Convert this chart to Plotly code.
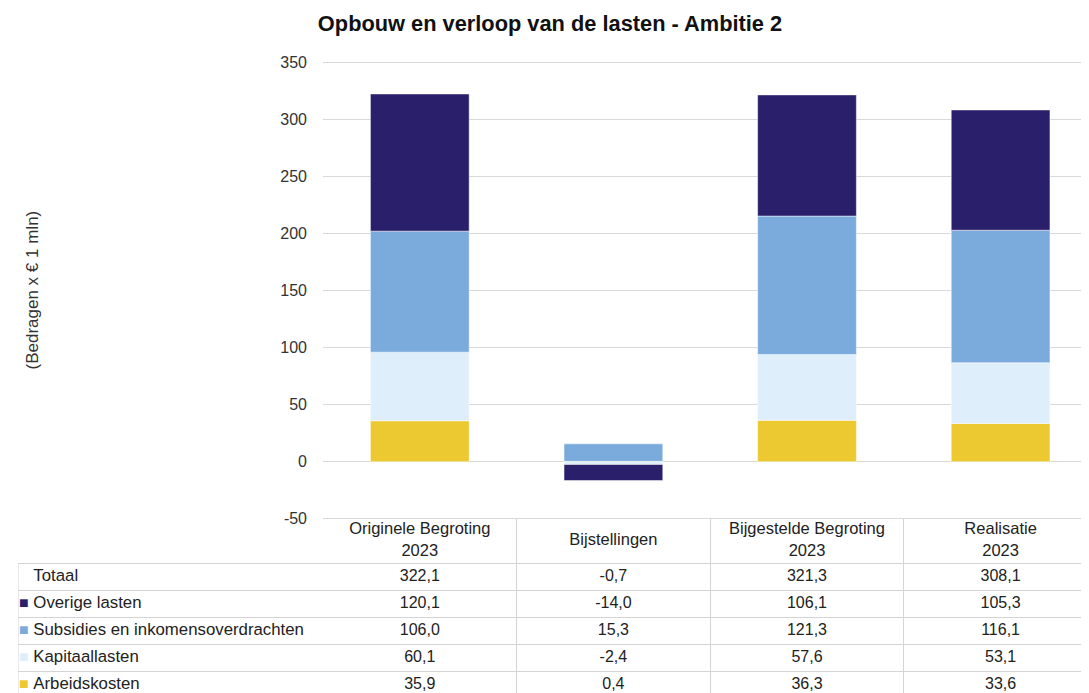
import plotly.graph_objects as go

# ---------------- data ----------------
categories = ["Originele Begroting<br>2023", "Bijstellingen", "Bijgestelde Begroting<br>2023", "Realisatie<br>2023"]
series_names = ["Arbeidskosten", "Kapitaallasten", "Subsidies en inkomensoverdrachten", "Overige lasten"]
arbeidskosten = [35.9, 0.4, 36.3, 33.6]
kapitaallasten = [60.1, -2.4, 57.6, 53.1]
subsidies = [106.0, 15.3, 121.3, 116.1]
overige = [120.1, -14.0, 106.1, 105.3]
totaal = [322.1, -0.7, 321.3, 308.1]
row_names = ["Totaal", "Overige lasten", "Subsidies en inkomensoverdrachten", "Kapitaallasten", "Arbeidskosten"]
y_ticks = [-50, 0, 50, 100, 150, 200, 250, 300, 350]
y_ticktext = ["-50", "0", "50", "100", "150", "200", "250", "300", "350"]
colors = ["#ecc831", "#deeefb", "#7aabdc", "#2a1f6b"]

# ---------------- geometry (page pixels) ----------------
OFF = 8                       # body margin of the page
PW, PH = 1089, 693
W, H = PW - OFF, PH - OFF
FONT = "Liberation Sans, Arial, sans-serif"

def fx(x):
    return (x - OFF) / W

def fy(y):
    return 1 - (y - OFF) / H

plot_left, plot_top, plot_bottom = 323, 61, 520
cat_w = 193.6                 # width of one category in pixels (plot is cropped at the right)
x_max = -0.5 + (PW - plot_left) / cat_w
table_left = 18
table_top = 519
header_h, row_h = 44, 27
table_h = PH - table_top

fig = go.Figure()

# stacked bars
for name, vals, col in zip(series_names, [arbeidskosten, kapitaallasten, subsidies, overige], colors):
    fig.add_trace(go.Bar(
        x=list(range(len(categories))), y=vals, name=name,
        marker=dict(color=col, line=dict(color="rgba(255,255,255,0.6)", width=0.8)),
        width=0.51, showlegend=False, xaxis="x", yaxis="y", hoverinfo="y+name"))

# ---------------- table below the chart ----------------
def fmt(v):
    return f"{v:.1f}".replace(".", ",")

row_vals = [totaal, overige, subsidies, kapitaallasten, arbeidskosten]
row_y = [header_h + row_h * i + row_h / 2 for i in range(len(row_names))]

# header texts
fig.add_trace(go.Scatter(
    x=list(range(len(categories))), y=[header_h / 2] * len(categories), text=categories,
    mode="text", textposition="middle center", textfont=dict(family=FONT, size=16.5, color="#222"),
    xaxis="x2", yaxis="y2", showlegend=False, hoverinfo="skip"))

# values
for i in range(len(categories)):
    fig.add_trace(go.Scatter(
        x=[i] * len(row_vals), y=row_y, text=[fmt(r[i]) for r in row_vals],
        mode="text", textposition="middle center", textfont=dict(family=FONT, size=16, color="#222"),
        xaxis="x2", yaxis="y2", showlegend=False, hoverinfo="skip"))

# row labels with colour markers
marker_cols = ["white", colors[3], colors[2], colors[1], colors[0]]
labels = [f"<span style='color:{c};font-size:16px'>■</span>\u00a0{n}" for c, n in zip(marker_cols, row_names)]
fig.add_trace(go.Scatter(
    x=[1] * len(labels), y=row_y, text=labels,
    mode="text", textposition="middle right", textfont=dict(family=FONT, size=16.8, color="#222"),
    xaxis="x3", yaxis="y2", showlegend=False, hoverinfo="skip"))

# left border of the label column (below the header)
fig.add_trace(go.Scatter(
    x=[0, 0], y=[header_h, table_h + row_h], mode="lines",
    line=dict(color="#d4d4d4", width=1), xaxis="x3", yaxis="y2", showlegend=False, hoverinfo="skip"))

grid_col = "#d9d9d9"
fig.update_layout(
    width=W, height=H, barmode="relative",
    margin=dict(l=0, r=0, t=0, b=0, autoexpand=False),
    paper_bgcolor="white", plot_bgcolor="rgba(0,0,0,0)",
    font=dict(family=FONT, size=16, color="#333"),
    title=dict(text="<b>Opbouw en verloop van de lasten - Ambitie 2</b>", x=fx(550), xanchor="center",
               y=fy(23), yanchor="middle", font=dict(size=21.8, color="#111")),
    xaxis=dict(domain=[fx(plot_left), 1], range=[-0.5, x_max], showticklabels=False,
               showgrid=False, zeroline=False, showline=False, ticks="", anchor="y", automargin=False),
    yaxis=dict(domain=[fy(plot_bottom), fy(plot_top)], range=[-51, 351], tickvals=y_ticks,
               ticktext=y_ticktext,
               showgrid=True, gridcolor=grid_col, gridwidth=1, zeroline=True, zerolinecolor=grid_col,
               zerolinewidth=1, showline=False, ticks="", ticklabelstandoff=15,
               tickfont=dict(size=16, color="#333"), anchor="x", automargin=False),
    xaxis2=dict(domain=[fx(plot_left), 1], range=[-0.5, x_max],
                tickvals=[i - 0.5 for i in range(len(categories))], showticklabels=False, showgrid=True,
                gridcolor="#d4d4d4", gridwidth=1, zeroline=False, showline=False, ticks="", anchor="y2",
                automargin=False),
    xaxis3=dict(domain=[fx(table_left), 1], range=[0, PW - table_left], showticklabels=False,
                showgrid=False, zeroline=False, showline=False, ticks="", anchor="y2", automargin=False),
    yaxis2=dict(domain=[0, fy(table_top)], range=[table_h, 0],
                tickvals=[header_h + row_h * i for i in range(len(row_names))], showticklabels=False,
                showgrid=True, gridcolor="#d4d4d4", gridwidth=1, zeroline=False, showline=False, ticks="",
                anchor="x3", automargin=False),
    annotations=[dict(text="(Bedragen x € 1 mln)", xref="paper", yref="paper", x=fx(20), y=fy(290),
                      textangle=-90, showarrow=False, font=dict(size=17, color="#333"))],
)

fig.write_html("out.html")
